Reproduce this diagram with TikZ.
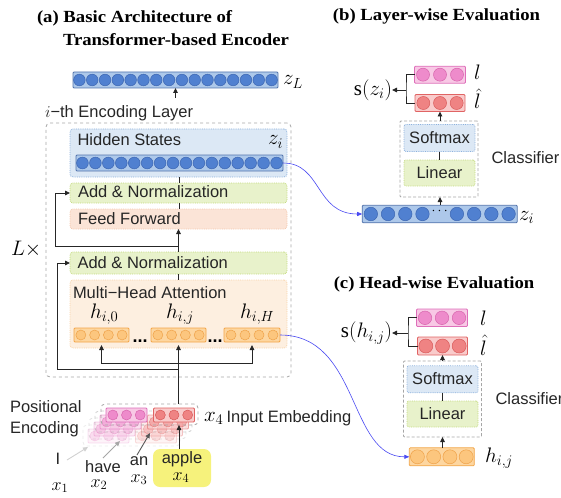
\documentclass[tikz,border=0pt]{standalone}
\usepackage{fix-cm}
\usepackage{fontspec}
\setmainfont{Liberation Sans}
\newfontfamily\ttlfont{Liberation Serif}
\usetikzlibrary{arrows.meta,calc}
\definecolor{bluebar}{HTML}{ADC8EA}
\definecolor{blueline}{HTML}{5273AC}
\definecolor{bluecirc}{HTML}{5080D0}
\definecolor{bluecircline}{HTML}{3C66B2}
\definecolor{orbar}{HTML}{FDD6A0}
\definecolor{orline}{HTML}{F2A548}
\definecolor{orcirc}{HTML}{FCC67E}
\definecolor{orcircline}{HTML}{EFA24A}
\definecolor{pkbar}{HTML}{F8C8E5}
\definecolor{pkline}{HTML}{DE6FBA}
\definecolor{pkcirc}{HTML}{EE8BCB}
\definecolor{pkcircline}{HTML}{D866AE}
\definecolor{rdbar}{HTML}{F9CBCB}
\definecolor{rdline}{HTML}{E06464}
\definecolor{rdcirc}{HTML}{EF8383}
\definecolor{rdcircline}{HTML}{D85A5A}
\definecolor{hsFill}{HTML}{DCE8F5}
\definecolor{hsLine}{HTML}{8DB1DD}
\definecolor{grFill}{HTML}{E8F2CB}
\definecolor{grLine}{HTML}{C2DA7C}
\definecolor{ffFill}{HTML}{FBE4D7}
\definecolor{ffLine}{HTML}{F4C6AB}
\definecolor{mhFill}{HTML}{FDEFE0}
\definecolor{mhLine}{HTML}{F8D2A6}
\definecolor{appleY}{HTML}{F6F27C}
\definecolor{curveB}{HTML}{4A4AF2}
\newcommand\circbar[8]{% name, cx, cy, w, h, nslots, slotlist, palette
  \node[draw=#8line, fill=#8bar, line width=0.8pt, minimum width=#4pt, minimum height=#5pt, inner sep=0, rounded corners=1pt] (#1) at (#2,#3) {};
  \pgfmathsetmacro\cbstep{#4/#6}
  \pgfmathsetmacro\cbr{min(\cbstep/2-0.6,#5/2-2)}
  \foreach \j in {#7} {
    \draw[#8circline, fill=#8circ, line width=0.5pt] ({#2-#4/2+(\j-0.5)*\cbstep},#3) circle[radius=\cbr pt];
  }
}
\tikzset{
  every node/.style={inner sep=0, outer sep=0},
  txt/.style={font=\fontsize{16.5}{19}\selectfont, text=black!85},
  mth/.style={font=\fontsize{21}{23}\selectfont},
  smth/.style={font=\fontsize{18}{20}\selectfont},
  ttl/.style={font=\ttlfont\bfseries\fontsize{17}{20}\selectfont, xscale=1.1},
  panel/.style={rounded corners=3pt, densely dotted, line width=0.8pt},
  hsbox/.style={panel, draw=hsLine, fill=hsFill},
  grbox/.style={panel, draw=grLine, fill=grFill},
  ffbox/.style={panel, draw=ffLine, fill=ffFill},
  mhbox/.style={panel, draw=mhLine, fill=mhFill},
  dbox/.style={draw=gray!70, dashed, rounded corners=4pt, line width=0.8pt},
  conn/.style={line width=0.9pt, draw=black!85},
  arr/.style={conn, -{Triangle[length=5pt,width=4.5pt]}},
  link/.style={draw=curveB, line width=0.6pt, -{Triangle[length=5pt,width=4pt]}},
}
\begin{document}
\begin{tikzpicture}[x=1pt,y=-1pt]
\useasboundingbox (0,0) rectangle (561,497);
% ---------- titles
\node[ttl, anchor=base west] (ta1) at (37,22.5) {(a) Basic Architecture of};
\node[ttl, anchor=base west] (ta2) at (63,46) {Transformer-based Encoder};
\node[ttl, anchor=base] (tb) at (436.5,21) {(b) Layer-wise Evaluation};
\node[ttl, anchor=base] (tc) at (434,288) {(c) Head-wise Evaluation};
% ---------- (a) encoder
\circbar{zL}{175.5}{80}{205}{16}{16}{1,...,16}{blue}
\node[mth, anchor=base west] (zLl) at (283,85) {$z_L$};
\coordinate (zin) at (175.5,98);
\draw[arr] (zin) -- (zL.south -| zin);
\node[txt, anchor=base west] (encl) at (45,118) {$i$−th Encoding Layer};
\node[dbox, minimum width=245pt, minimum height=254pt] (layer) at (168.5,250) {};
\node[hsbox, minimum width=217pt, minimum height=48pt] (hs) at (178.5,153) {};
\node[txt, anchor=base west] (hsl) at (77.5,146) {Hidden States};
\node[mth, anchor=base west] (zil) at (268,145) {$z_i$};
\circbar{hsbar}{179.5}{163}{207}{16}{16}{1,...,16}{blue}
\node[grbox, minimum width=217pt, minimum height=20pt] (an2) at (178.5,193) {};
\node[txt, anchor=base west] (an2l) at (78,197.5) {Add \& Normalization};
\node[ffbox, minimum width=217pt, minimum height=20pt] (ff) at (178.5,219) {};
\node[txt, anchor=base west] (ffl) at (78,224) {Feed Forward};
\node[grbox, minimum width=217pt, minimum height=22pt] (an1) at (178.5,263) {};
\node[txt, anchor=base west] (an1l) at (77.5,268) {Add \& Normalization};
\node[mhbox, minimum width=217pt, minimum height=68pt] (mha) at (178.5,314) {};
\node[txt, anchor=base west] (mhal) at (73,298) {Multi−Head Attention};
\circbar{h0}{101.5}{335}{55}{14}{4}{1,...,4}{or}
\circbar{hj}{178.5}{335}{55}{14}{4}{1,...,4}{or}
\circbar{hH}{252}{335}{56}{14}{4}{1,...,4}{or}
\node[mth, anchor=base west] (h0l) at (90,318) {$h_{i,0}$};
\node[mth, anchor=base west] (hjl) at (166,318) {$h_{i,j}$};
\node[mth, anchor=base west] (hHl) at (240,318) {$h_{i,H}$};
\node[font=\bfseries\fontsize{18}{18}\selectfont, anchor=base] (dots1) at (140,342) {...};
\node[font=\bfseries\fontsize{18}{18}\selectfont, anchor=base] (dots2) at (215,342) {...};
\node[mth, anchor=base west] (Lx) at (11,255) {$L\times$};
% connectors inside the layer
\draw[conn] (hs.south -| hsbar) -- (an2.north -| hsbar);
\draw[conn] (an2.south -| hsbar) -- (ff.north -| hsbar);
\coordinate (r2) at (178.5,246);
\draw[conn] (an1.north -| r2) -- (r2);
\draw[arr] (r2) -- (ff.south -| r2);
\draw[arr] (r2) -- (55,246) |- (an2.west);
\draw[conn] (an1.south -| r2) -- (mha.north -| r2);
\coordinate (fan) at (178.5,363);
\coordinate (r1) at (178.5,369);
\draw[arr, shorten >=3pt] (fan) -- (hj.south);
\draw[arr, shorten >=3pt] (fan) -| (h0.south);
\draw[arr, shorten >=3pt] (fan) -| (hH.south);
\draw[arr] (r1) -- (57,369) |- (an1.west);
% ---------- input embedding
\foreach \k/\op in {3/0.22,2/0.35,1/0.55}{
  \begin{scope}[shift={(-6*\k,7*\k)}, opacity=\op]
    \node[dbox, minimum width=97pt, minimum height=21pt] (embbox\k) at (149.5,414.5) {};
    \circbar{embp\k}{126.5}{415}{41}{14}{3}{1,2,3}{pk}
    \circbar{embr\k}{174}{415}{41}{14}{3}{1,2,3}{rd}
  \end{scope}
}
\node[dbox, minimum width=97pt, minimum height=21pt] (emb) at (149.5,414.5) {};
\circbar{embp}{126.5}{415}{41}{14}{3}{1,2,3}{pk}
\circbar{embr}{174}{415}{41}{14}{3}{1,2,3}{rd}
\draw[conn] (emb.north -| fan) -- (fan);
\node[txt, anchor=base west, align=left] (pos1) at (10,412.7) {Positional};
\node[txt, anchor=base west] (pos2) at (10,433) {Encoding};
\node[mth, anchor=base west] (x4l) at (204,421) {$x_4$};
\node[txt, anchor=base west] (inemb) at (226.5,422) {Input Embedding};
% words
\node[rounded corners=7pt, fill=appleY, minimum width=58pt, minimum height=38pt] (apple) at (182,468) {};
\node[txt, anchor=base] (applel) at (182,463) {apple};
\node[smth, anchor=base] (x4) at (181,480) {$x_4$};
\node[txt, anchor=base] (wI) at (58,464) {I};
\node[txt, anchor=base] (whave) at (103,472) {have};
\node[txt, anchor=base] (wan) at (139,465) {an};
\node[smth, anchor=base] (x1) at (60,490) {$x_1$};
\node[smth, anchor=base] (x2) at (99,487) {$x_2$};
\node[smth, anchor=base] (x3) at (139,482) {$x_3$};
\coordinate (ain) at (179,425);
\draw[arr] (apple.north -| ain) -- (ain);
\draw[conn, draw=black!65, -{Triangle[length=5pt,width=4.5pt]}] (137,455) -- (150,433);
\draw[conn, draw=black!35, -{Triangle[length=5pt,width=4.5pt]}] (103,458) -- (120,441);
\draw[conn, draw=black!18, -{Triangle[length=5pt,width=4.5pt]}] (67,460) -- (88,447);
% ---------- (b) layer-wise
\circbar{pkb}{440}{74.7}{51}{17}{3}{1,2,3}{pk}
\circbar{rdb}{440}{103}{50}{17}{3}{1,2,3}{rd}
\node[mth, anchor=base west] (lb) at (474,80) {$l$};
\node[mth, anchor=base west] (lhb) at (474,109) {$\hat{l}$};
\coordinate (brb) at (406,90);
\draw[conn] (pkb.west) -| (brb) |- (rdb.west);
\node[mth, anchor=east] (szi) at (392,90) {{\ttlfont s}$(z_i)$};
\draw[arr] (brb) -- (szi.east);
\node[dbox, rounded corners=1pt, densely dashed, minimum width=78pt, minimum height=76pt] (cls) at (439,159) {};
\node[hsbox, rounded corners=2pt, minimum width=71pt, minimum height=27pt] (sm) at (439.5,138) {};
\node[txt, anchor=base] (sml) at (439.5,143.3) {Softmax};
\node[grbox, rounded corners=2pt, minimum width=71pt, minimum height=26pt] (ln) at (439.5,173) {};
\node[txt, anchor=base] (lnl) at (439.5,178) {Linear};
\draw[conn] (sm.south) -- (ln.north);
\draw[arr] (cls.north -| rdb) -- (rdb.south);
\node[txt, anchor=base west] (clsl) at (491.5,164) {Classifier};
\circbar{zb}{439.7}{214}{155}{17.5}{9}{1,2,3,4,6,7,8,9}{blue}
\node[font=\bfseries\fontsize{14}{16}\selectfont, anchor=base] (zdots) at (439.7,214) {$\cdots$};
\node[mth, anchor=base west] (zbl) at (519,220) {$z_i$};
\draw[arr] (zb.north -| rdb) -- (cls.south -| rdb);
\draw[link] (hsbar.east) .. controls (322,163) and (315,214) .. (zb.west);
% ---------- (c) head-wise
\circbar{pkc}{442}{317.8}{51}{17.5}{3}{1,2,3}{pk}
\circbar{rdc}{442.5}{346}{50}{18}{3}{1,2,3}{rd}
\node[mth, anchor=base west] (lc) at (480,325) {$l$};
\node[mth, anchor=base west] (lhc) at (480,355) {$\hat{l}$};
\coordinate (brc) at (408,333);
\draw[conn] (pkc.west) -| (brc) |- (rdc.west);
\node[mth, anchor=east] (shij) at (392,333) {{\ttlfont s}$(h_{i,j})$};
\draw[arr] (brc) -- (shij.east);
\node[dbox, rounded corners=1pt, densely dashed, minimum width=78pt, minimum height=76pt] (cls2) at (442.5,399) {};
\node[hsbox, rounded corners=2pt, minimum width=71pt, minimum height=27pt] (sm2) at (442.5,379.3) {};
\node[txt, anchor=base] (sm2l) at (442.5,384.5) {Softmax};
\node[grbox, rounded corners=2pt, minimum width=71pt, minimum height=26pt] (ln2) at (442.5,414) {};
\node[txt, anchor=base] (ln2l) at (442.5,419) {Linear};
\draw[conn] (sm2.south) -- (ln2.north);
\draw[arr] (cls2.north -| rdc) -- (rdc.south);
\node[txt, anchor=base west] (cls2l) at (495.5,404) {Classifier};
\circbar{hjb}{441.8}{456.8}{65}{18}{4}{1,...,4}{or}
\node[mth, anchor=base west] (hjbl) at (485,462) {$h_{i,j}$};
\draw[arr] (hjb.north -| rdc) -- (cls2.south -| rdc);
\draw[link] (hH.east) .. controls (360,335) and (348,457) .. (hjb.west);
\end{tikzpicture}
\end{document}
